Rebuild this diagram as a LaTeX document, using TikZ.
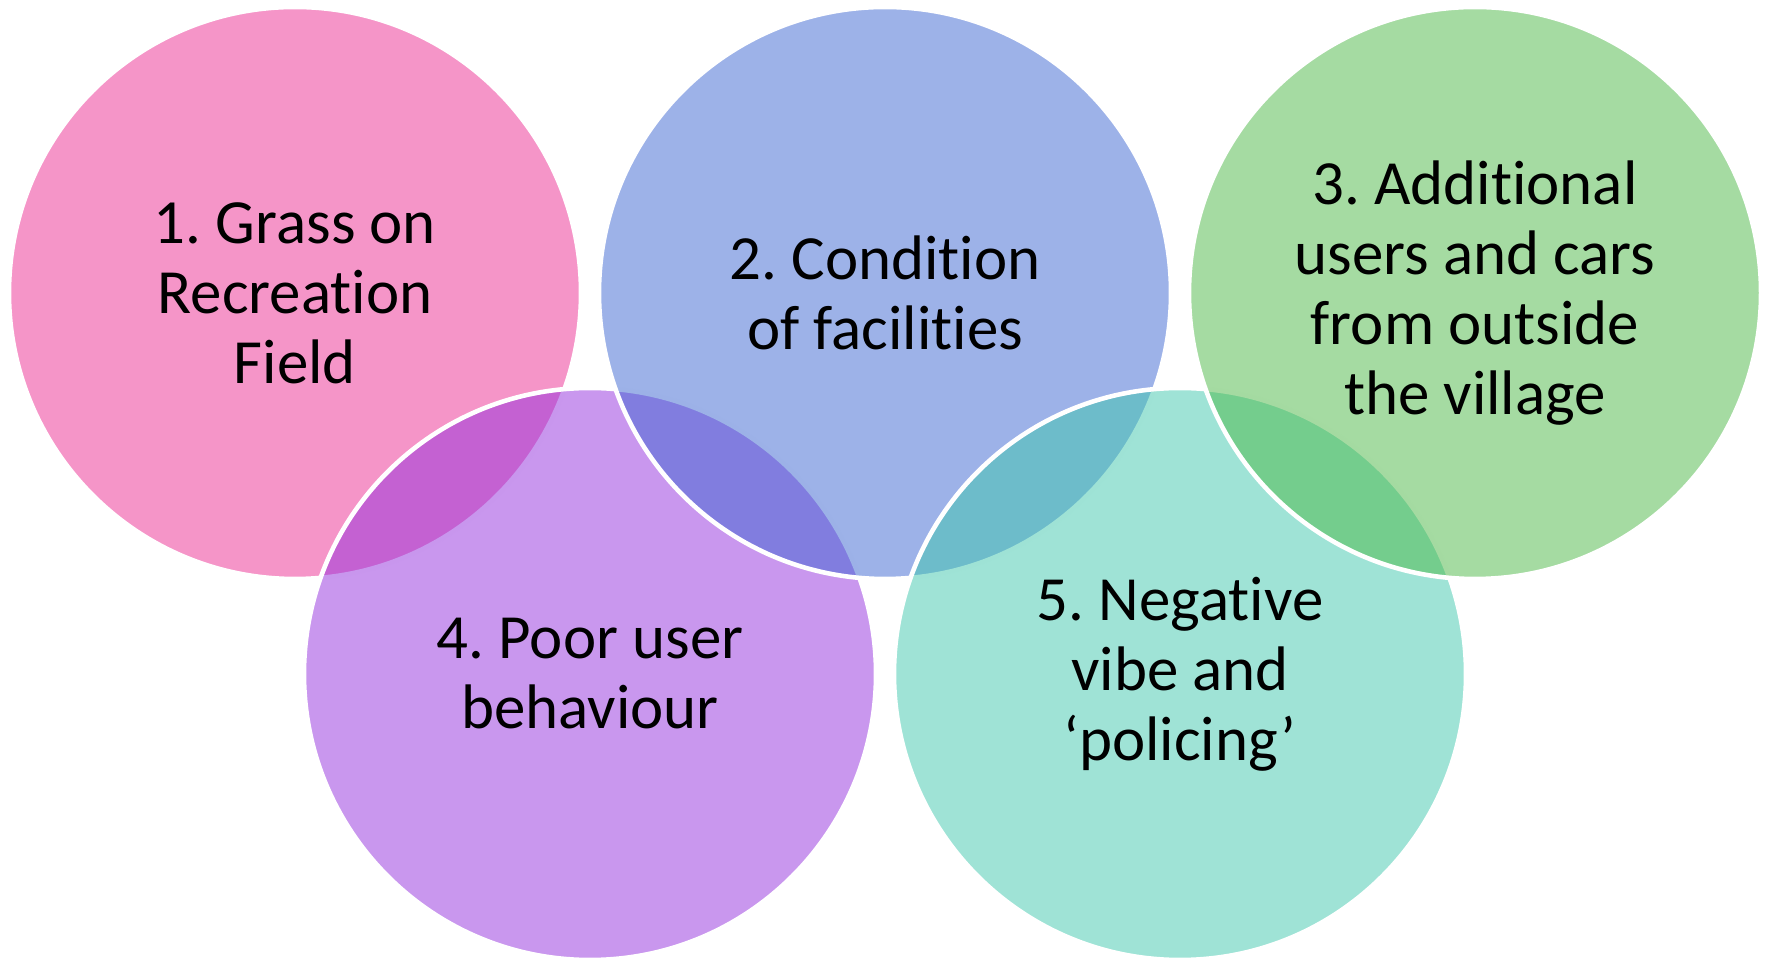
\documentclass[tikz,border=0pt]{standalone}
\usepackage{fontspec}
\setmainfont{Carlito}[Ligatures=NoCommon]
\usepackage{tikz}
\usetikzlibrary{positioning}
\definecolor{grasscol}{RGB}{235,43,145}
\definecolor{facilcol}{RGB}{59,101,209}
\definecolor{outsidecol}{RGB}{75,183,69}
\definecolor{behavcol}{RGB}{147,47,221}
\definecolor{vibecol}{RGB}{63,199,173}
\frenchspacing

\begin{document}
\begin{tikzpicture}[every node/.style={circle,minimum size=5.72cm,align=center,font=\fontsize{17.9}{19.9}\selectfont}]
	%% some definitions
	\tikzset{issue/.style={fill=#1,fill opacity=0.5,draw=white,draw opacity=1,line width=1.3pt,text opacity=1}}
	
	\def\rowUp{6.66} % upper row
	\def\rowDown{2.85} % lower row
	
	\useasboundingbox (0,0) rectangle (17.68,9.59);
	
	% drawn in zig-zag order so that each white rim sits over the one before
	\node[issue=grasscol] (grass) at (2.95,\rowUp) {1. Grass on\\Recreation\\Field};
	\node[issue=behavcol] (behaviour) at (5.90,\rowDown) {4. Poor user\\behaviour};
	\node[issue=facilcol] (facilities) at (8.85,\rowUp) {2. Condition\\of facilities};
	\node[issue=vibecol] (vibe) at (11.80,\rowDown) {5. Negative\\vibe and\\‘policing’};
	\node[issue=outsidecol] (outside) at (14.75,\rowUp) {3. Additional\\users and cars\\from outside\\the village};
	
%	\node[issue=grasscol] (test) at (0,0) {};
\end{tikzpicture}
\end{document}
